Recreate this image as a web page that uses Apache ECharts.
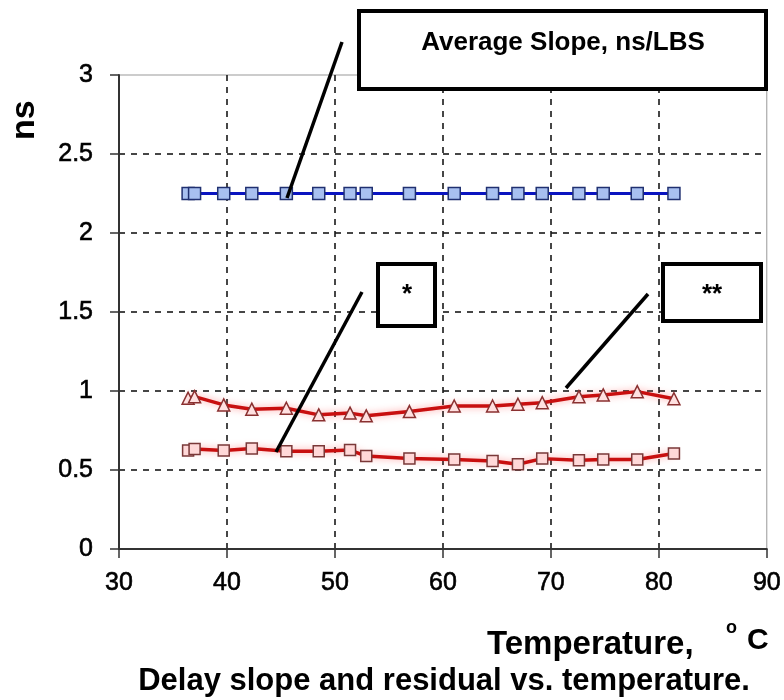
<!DOCTYPE html>
<html>
<head>
<meta charset="utf-8">
<script src="https://cdn.jsdelivr.net/npm/echarts@6/dist/echarts.min.js"></script>
<style>html,body{margin:0;padding:0;background:#fff;}#c{width:784px;height:700px;}</style>
</head>
<body>
<div id="c"></div>
<script>
// Temperature (°C) of each measurement
const temperature = [36.4, 37.0, 39.7, 42.3, 45.5, 48.5, 51.4, 52.9, 56.9, 61.05, 64.6, 66.95, 69.2, 72.6, 74.85, 78.0, 81.4];
// Average slope, ns/LBS
const avgSlope = [2.25, 2.25, 2.25, 2.25, 2.25, 2.25, 2.25, 2.25, 2.25, 2.25, 2.25, 2.25, 2.25, 2.25, 2.25, 2.25, 2.25];
// ** series (triangles)
const residualTri = [0.954, 0.964, 0.912, 0.885, 0.891, 0.849, 0.86, 0.843, 0.87, 0.905, 0.905, 0.916, 0.926, 0.964, 0.975, 0.996, 0.951];
// * series (squares)
const residualSq = [0.623, 0.633, 0.623, 0.636, 0.619, 0.619, 0.626, 0.588, 0.573, 0.567, 0.557, 0.536, 0.572, 0.561, 0.567, 0.567, 0.605];
const xTicks = [30, 40, 50, 60, 70, 80, 90];
const yTicks = [0, 0.5, 1, 1.5, 2, 2.5, 3];

const pairs = (ys) => temperature.map((t, i) => [t, ys[i]]);
const FONT = '"Liberation Sans", Arial, sans-serif';
const chart = echarts.init(document.getElementById('c'), null, {renderer: 'canvas'});

const redLine = {color: '#c80f0f', width: 3.5, shadowColor: 'rgba(255,70,70,0.5)', shadowBlur: 7};
const tickLabel = {fontFamily: FONT, fontSize: 25, color: '#000', textBorderColor: '#000', textBorderWidth: 0.6};

chart.setOption({
  animation: false,
  backgroundColor: '#fff',
  grid: {left: 119, right: 14, top: 75, bottom: 151, show: true, borderColor: '#999', borderWidth: 1, backgroundColor: 'transparent'},
  xAxis: {
    type: 'value', min: xTicks[0], max: xTicks[xTicks.length - 1], interval: 10,
    axisLine: {show: true, onZero: false, lineStyle: {color: '#333', width: 2}},
    axisTick: {show: true, length: 9, lineStyle: {color: '#333', width: 1.5}},
    axisLabel: Object.assign({margin: 22}, tickLabel),
    splitLine: {show: true, showMinLine: false, showMaxLine: false, lineStyle: {color: '#1a1a1a', type: [6, 6], width: 1.6}}
  },
  yAxis: {
    type: 'value', min: yTicks[0], max: yTicks[yTicks.length - 1], interval: 0.5,
    axisLine: {show: true, onZero: false, lineStyle: {color: '#333', width: 2}},
    axisTick: {show: true, length: 9, lineStyle: {color: '#333', width: 1.5}},
    axisLabel: Object.assign({margin: 26}, tickLabel),
    splitLine: {show: true, showMinLine: false, showMaxLine: false, lineStyle: {color: '#1a1a1a', type: [6, 6], width: 1.6}}
  },
  series: [
    {
      name: 'Average Slope', type: 'line', data: pairs(avgSlope),
      symbol: 'rect', symbolSize: 12,
      lineStyle: {color: '#0a14c0', width: 3},
      itemStyle: {color: '#a8c0f0', borderColor: '#203070', borderWidth: 1.5},
      z: 3
    },
    {
      name: '**', type: 'line', data: pairs(residualTri),
      symbol: 'triangle', symbolSize: 12,
      lineStyle: redLine,
      itemStyle: {color: '#ffe0e0', borderColor: '#8a3030', borderWidth: 1.5},
      z: 3
    },
    {
      name: '*', type: 'line', data: pairs(residualSq),
      symbol: 'rect', symbolSize: 11,
      lineStyle: redLine,
      itemStyle: {color: '#ffd8d8', borderColor: '#7a3838', borderWidth: 1.5},
      z: 3
    }
  ],
  graphic: [
    // y-axis name
    {type: 'text', rotation: Math.PI / 2,
     style: {text: 'ns', font: 'bold 34px ' + FONT, fill: '#000'},
     x: 8, y: 140},
    // x-axis name
    {type: 'text', x: 487, y: 628, style: {text: 'Temperature,', font: 'bold 33px ' + FONT, fill: '#000'}},
    {type: 'text', x: 726, y: 619, style: {text: 'o', font: 'bold 18px ' + FONT, fill: '#000'}},
    {type: 'text', x: 747, y: 626, style: {text: 'C', font: 'bold 30px ' + FONT, fill: '#000'}},
    // caption
    {type: 'text', x: 444, y: 681, style: {text: 'Delay slope and residual vs. temperature.', font: 'bold 31px ' + FONT, fill: '#000', align: 'center', verticalAlign: 'middle'}},
    // callout lines
    {type: 'line', shape: {x1: 342, y1: 42, x2: 287, y2: 198}, style: {stroke: '#000', lineWidth: 3.5}, z: 100},
    {type: 'line', shape: {x1: 362, y1: 292, x2: 276, y2: 452}, style: {stroke: '#000', lineWidth: 3.5}, z: 100},
    {type: 'line', shape: {x1: 648, y1: 294, x2: 566, y2: 388}, style: {stroke: '#000', lineWidth: 3.5}, z: 100},
    // boxes
    {type: 'rect', shape: {x: 359, y: 11, width: 407, height: 78}, style: {fill: '#fff', stroke: '#000', lineWidth: 4}, z: 101},
    {type: 'text', x: 563, y: 43, style: {text: 'Average Slope, ns/LBS', font: 'bold 26px ' + FONT, fill: '#000', align: 'center', verticalAlign: 'middle'}, z: 102},
    {type: 'rect', shape: {x: 378, y: 264, width: 57, height: 62}, style: {fill: '#fff', stroke: '#000', lineWidth: 4}, z: 101},
    {type: 'text', x: 407, y: 295, style: {text: '*', font: 'bold 26px ' + FONT, fill: '#000', align: 'center', verticalAlign: 'middle'}, z: 102},
    {type: 'rect', shape: {x: 663, y: 264, width: 98, height: 57}, style: {fill: '#fff', stroke: '#000', lineWidth: 4}, z: 101},
    {type: 'text', x: 712, y: 295, style: {text: '**', font: 'bold 26px ' + FONT, fill: '#000', align: 'center', verticalAlign: 'middle'}, z: 102}
  ]
});
</script>
</body>
</html>
